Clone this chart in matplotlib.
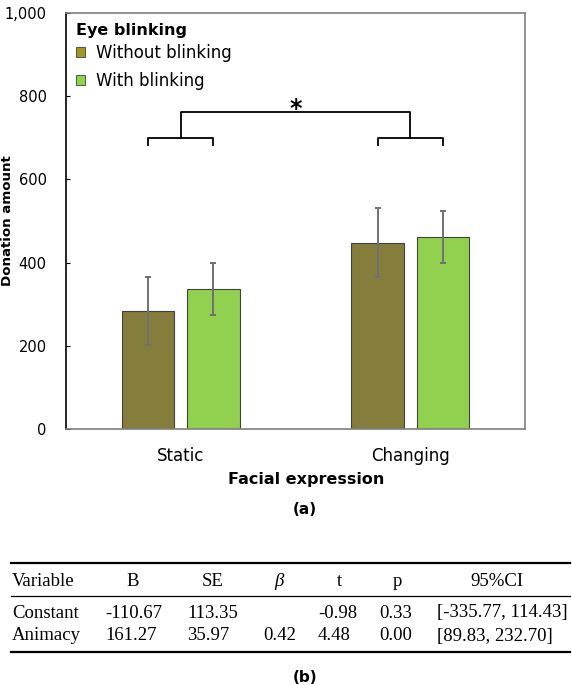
import numpy as np
import matplotlib
matplotlib.use("Agg")
import matplotlib.pyplot as plt
from matplotlib.patches import Patch
from matplotlib.ticker import FuncFormatter

# bar chart data (a)
groups = ["Static", "Changing"]
without_mean = [284, 448]
without_err = [82, 83]
with_mean = [337, 462]
with_err = [63, 62]
series_labels = ["Without blinking", "With blinking"]

# regression table data (b)
table_header = ["Variable", "B", "SE", "\u03b2", "t", "p", "95%CI"]
row_constant = ["Constant", "-110.67", "113.35", "", "-0.98", "0.33", "[-335.77, 114.43]"]
row_animacy = ["Animacy", "161.27", "35.97", "0.42", "4.48", "0.00", "[89.83, 232.70]"]

olive = "#847D3B"
green = "#92D050"

W, H = 572, 685
fig = plt.figure(figsize=(W / 100, H / 100), dpi=100)
ax = fig.add_axes([66 / W, 1 - 429 / H, (525 - 66) / W, (429 - 13) / H])

x = np.arange(len(groups))
off = 0.1427
bw = 0.2266
err_kw = dict(ecolor="#707070", elinewidth=1.4, capsize=2, capthick=1.4)
ax.bar(x - off, without_mean, bw, yerr=without_err, color=olive,
       edgecolor="#404040", linewidth=0.8, error_kw=err_kw, zorder=2)
ax.bar(x + off, with_mean, bw, yerr=with_err, color=green,
       edgecolor="#404040", linewidth=0.8, error_kw=err_kw, zorder=2)

# significance brackets
lo, mid, hi = 682, 700, 763
for c in x:
    ax.plot([c - off, c - off, c + off, c + off], [lo, mid, mid, lo], color="black", lw=1.3)
ax.plot([x[0], x[0], x[1], x[1]], [mid, hi, hi, mid], color="black", lw=1.3)
ax.text(x.mean(), 753, "*", ha="center", va="baseline", fontsize=17, fontweight="bold")

ax.set_xlim(-0.5, 1.5)
ax.set_ylim(0, 1000)
ax.set_yticks(range(0, 1001, 200))
ax.yaxis.set_major_formatter(FuncFormatter(lambda v, p: f"{v:,.0f}"))
ax.tick_params(axis="y", direction="in", length=3, width=0.8, pad=14, labelsize=10.5)
ax.set_xticks(x)
ax.set_xticklabels(groups, fontsize=12)
ax.tick_params(axis="x", length=0, pad=13)
ax.set_xlabel("Facial expression", fontsize=11.5, fontweight="bold", labelpad=5)
ax.xaxis.label.set_x((306 - 66) / (525 - 66))
for s in ["top", "right", "bottom"]:
    ax.spines[s].set_color("#7F7F7F")
ax.spines["left"].set_color("black")
for s in ax.spines.values():
    s.set_linewidth(1.2)

fig.text(8 / W, 1 - 221 / H, "Donation amount", rotation=90, ha="center", va="center",
         fontsize=9.6, fontweight="bold")

# legend: title drawn as text so it can sit closer to the entries
ax.text(10 / 459, 1 - 18 / 416, "Eye blinking", transform=ax.transAxes, ha="left",
        va="center", fontsize=11.5, fontweight="bold")
handles = [Patch(facecolor="#9E9A22", edgecolor="#404040", linewidth=0.6),
           Patch(facecolor="#8DD34E", edgecolor="#404040", linewidth=0.6)]
ax.legend(handles, series_labels, loc="upper left",
          bbox_to_anchor=(0.021, 0.925), frameon=False, fontsize=12,
          handlelength=0.55, handleheight=0.55, handletextpad=0.7,
          labelspacing=0.6, borderpad=0, borderaxespad=0)

fig.text(305 / W, 1 - 510 / H, "(a)", ha="center", va="center", fontsize=11,
         fontweight="bold")

# table (b)
tab = fig.add_axes([0, 0, 1, 1])
tab.set_xlim(0, W)
tab.set_ylim(H, 0)
tab.axis("off")
serif = "Liberation Serif"
head_x = [12, 133, 213, 279, 339, 397, 497]
val_x = [12, 105, 187, 263, 318, 379, 437]
for i, h in enumerate(table_header):
    tab.text(head_x[i], 581, h, ha="left" if i == 0 else "center", va="center",
             fontsize=13.5, family=serif, style="italic" if h == "\u03b2" else "normal")
for yy, row in [(613, row_constant), (636, row_animacy)]:
    for i, v in enumerate(row):
        tab.text(val_x[i], yy, v, ha="left", va="center", fontsize=13.5, family=serif)
tab.plot([11, 570], [563, 563], color="black", lw=1.6)
tab.plot([11, 570], [596, 596], color="black", lw=0.9)
tab.plot([11, 570], [652, 652], color="black", lw=1.6)
tab.text(305, 678, "(b)", ha="center", va="center", fontsize=11, fontweight="bold")

fig.savefig("out.png", dpi=100)
